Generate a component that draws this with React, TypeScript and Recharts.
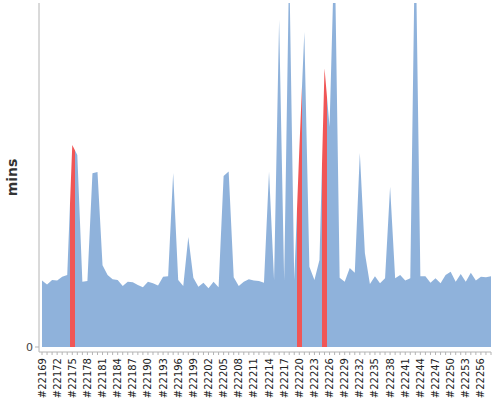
import React from 'react'
import { Area, AreaChart, XAxis, YAxis } from 'recharts'

const buildNumbers = [
  22169, 22170, 22171, 22172, 22173, 22174, 22175, 22176, 22177, 22178,
  22179, 22180, 22181, 22182, 22183, 22184, 22185, 22186, 22187, 22188,
  22189, 22190, 22191, 22192, 22193, 22194, 22195, 22196, 22197, 22198,
  22199, 22200, 22201, 22202, 22203, 22204, 22205, 22206, 22207, 22208,
  22209, 22210, 22211, 22212, 22213, 22214, 22215, 22216, 22217, 22218,
  22219, 22220, 22221, 22222, 22223, 22224, 22225, 22226, 22227, 22228,
  22229, 22230, 22231, 22232, 22233, 22234, 22235, 22236, 22237, 22238,
  22239, 22240, 22241, 22242, 22243, 22244, 22245, 22246, 22247, 22248,
  22249, 22250, 22251, 22252, 22253, 22254, 22255, 22256, 22257, 22258,
]

// build duration in minutes
const durations = [
  19.3, 18.2, 19.5, 19.3, 20.4, 20.9, 58.7, 55.8, 19.0, 19.2,
  50.5, 50.9, 23.8, 20.9, 19.7, 19.5, 17.7, 19.0, 18.8, 18.0,
  17.4, 19.0, 18.5, 17.9, 20.4, 20.6, 50.6, 19.5, 17.7, 32.0,
  20.1, 17.5, 18.7, 17.1, 19.0, 17.4, 49.7, 51.0, 20.3, 17.7,
  19.0, 19.7, 19.3, 19.2, 18.7, 51.0, 19.5, 95.1, 19.5, 112.0,
  19.5, 57.3, 91.6, 23.3, 19.5, 25.3, 81.0, 64.0, 118.0, 20.1,
  19.0, 23.0, 21.6, 56.4, 27.3, 18.3, 20.6, 18.5, 20.0, 46.6,
  20.0, 20.9, 19.3, 20.0, 125.0, 20.6, 20.6, 18.7, 20.0, 18.5,
  20.9, 21.9, 19.0, 21.2, 19.0, 21.6, 19.3, 20.4, 20.3, 20.6,
]

const failedBuilds = [22175, 22220, 22225]

const yTicks = [0]

const BLUE = '#8fb2db'
const RED = '#f05656'
const AXIS = '#b4b4b4'
const FONT = '"DejaVu Sans", sans-serif'

const data = buildNumbers.map((build, i) => ({ build, duration: durations[i] }))

// each failed build colours its own slot, half a step either side of the point
function failStops() {
  const last = buildNumbers.length - 1
  const stops: { offset: number; color: string }[] = [{ offset: 0, color: BLUE }]
  failedBuilds.forEach((b) => {
    const i = buildNumbers.indexOf(b)
    const from = Math.max(0, (i - 0.5) / last)
    const to = Math.min(1, (i + 0.5) / last)
    stops.push({ offset: from, color: BLUE }, { offset: from, color: RED })
    stops.push({ offset: to, color: RED }, { offset: to, color: BLUE })
  })
  stops.push({ offset: 1, color: BLUE })
  return stops
}

function BuildTick(props: any) {
  const { x, y, payload, index } = props
  if (index % 3 !== 0) return null
  return (
    <g transform={`translate(${x},${y})`}>
      <text
        transform="rotate(-90)"
        textAnchor="end"
        dy="0.35em"
        fontSize={10}
        fontFamily={FONT}
        fill="#222"
      >
        {`#${payload.value}`}
      </text>
    </g>
  )
}

export default function App() {
  return (
    <div style={{ position: 'absolute', left: 0, top: 0 }}>
      <AreaChart
        width={500}
        height={400}
        data={data}
        margin={{ top: 3, right: 9, left: 0, bottom: 0 }}
      >
        <defs>
          <linearGradient id="buildFill" x1="0" y1="0" x2="1" y2="0">
            {failStops().map((s, k) => (
              <stop key={k} offset={s.offset} stopColor={s.color} />
            ))}
          </linearGradient>
        </defs>
        <XAxis
          dataKey="build"
          interval={0}
          height={48}
          padding={{ left: 3, right: 0 }}
          axisLine={{ stroke: AXIS }}
          tickLine={{ stroke: AXIS }}
          tickSize={3}
          tickMargin={3}
          tick={<BuildTick />}
        />
        <YAxis
          width={39}
          domain={[0, 100]}
          allowDataOverflow
          ticks={yTicks}
          padding={{ top: 0, bottom: 5 }}
          axisLine={{ stroke: AXIS }}
          tickLine={{ stroke: AXIS }}
          tickSize={4}
          tickMargin={2}
          tick={{ fontSize: 11, fill: '#444', fontFamily: FONT }}
          label={{
            value: 'mins',
            angle: -90,
            position: 'center',
            dx: -7,
            style: { fontSize: 14, fontWeight: 'bold', fill: '#333', fontFamily: FONT },
          }}
        />
        <Area
          type="linear"
          dataKey="duration"
          stroke="none"
          fill="url(#buildFill)"
          fillOpacity={1}
          dot={false}
          activeDot={false}
          isAnimationActive={false}
        />
      </AreaChart>
    </div>
  )
}
